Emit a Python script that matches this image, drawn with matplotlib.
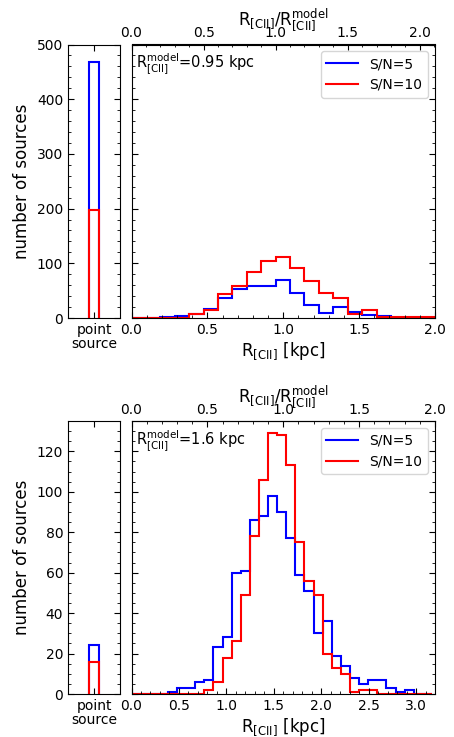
import numpy as np
import matplotlib
matplotlib.use("Agg")
import matplotlib.pyplot as plt
from matplotlib.ticker import AutoMinorLocator, MultipleLocator

plt.rcParams['mathtext.default'] = 'regular'
plt.rcParams['font.family'] = ['DejaVu Sans']

# ---------------- data ----------------
r_model = [0.95, 1.6]            # kpc
bin_width = [0.095, 0.096]       # kpc

point_sn5 = [468, 24]
point_sn10 = [197, 16]

top_sn5 = [0, 0, 1, 3, 8, 17, 36, 53, 59, 58, 70, 45, 23, 10, 20, 11, 5, 3, 0, 0, 0, 0]
top_sn10 = [0, 0, 0, 0, 7, 15, 44, 58, 84, 105, 112, 91, 68, 46, 36, 8, 14, 2, 1, 1, 1, 0]

bot_sn5 = [0, 0, 0, 0, 1, 3, 3, 6, 7, 23, 28, 60, 61, 86, 88, 98, 90, 77, 59, 51, 30, 36,
           19, 14, 8, 5, 7, 7, 3, 1, 2, 0, 0]
bot_sn10 = [0, 0, 0, 0, 0, 0, 0, 0, 2, 6, 18, 26, 49, 78, 106, 129, 128, 113, 75, 56, 49, 20,
            13, 10, 1, 2, 2, 0, 0, 0, 0, 0, 0]

series_sn5 = [top_sn5, bot_sn5]
series_sn10 = [top_sn10, bot_sn10]
xmax = [2.0, 3.2]
ymax = [500, 135]
ymajor = [100, 20]
xlabels_model = ['0.95', '1.6']
legend_labels = ['S/N=5', 'S/N=10']
colors = ['blue', 'red']

# ---------------- figure ----------------
W, H = 454, 737
fig = plt.figure(figsize=(W / 100, H / 100), dpi=100)

def frac(x0, y0, x1, y1):
    return [x0 / W, 1 - y1 / H, (x1 - x0) / W, (y1 - y0) / H]

rows = [(44.5, 318), (421, 694)]

for i in range(2):
    y0, y1 = rows[i]
    axl = fig.add_axes(frac(68, y0, 120, y1))
    axm = fig.add_axes(frac(131.5, y0, 435, y1))

    # point-source panel
    hw = 0.087
    for vals, c in zip([point_sn5[i], point_sn10[i]], colors):
        axl.stairs([vals], [-hw, hw], color=c, lw=1.5, baseline=0)
    axl.set_xlim(-0.5, 0.5)
    axl.set_ylim(0, ymax[i])
    axl.set_xticks([0])
    axl.set_xticklabels(['point\nsource'], fontsize=10, linespacing=1.0)
    axl.yaxis.set_major_locator(MultipleLocator(ymajor[i]))
    axl.yaxis.set_minor_locator(AutoMinorLocator())
    axl.tick_params(axis='both', which='both', direction='in', top=True, right=True,
                    labelsize=10)
    axl.tick_params(axis='x', which='minor', bottom=False, top=False)
    axl.tick_params(which='major', length=4.5)
    axl.tick_params(which='minor', length=2.5)
    axl.set_ylabel('number of sources', fontsize=12)

    # main histogram panel
    n = len(series_sn5[i])
    edges = np.arange(n + 1) * bin_width[i]
    axm.stairs(series_sn5[i], edges, color=colors[0], lw=1.5, label=legend_labels[0])
    axm.stairs(series_sn10[i], edges, color=colors[1], lw=1.5, label=legend_labels[1])
    axm.set_xlim(0, xmax[i])
    axm.set_ylim(0, ymax[i])
    axm.xaxis.set_major_locator(MultipleLocator(0.5))
    axm.xaxis.set_minor_locator(AutoMinorLocator())
    axm.yaxis.set_major_locator(MultipleLocator(ymajor[i]))
    axm.yaxis.set_minor_locator(AutoMinorLocator())
    axm.tick_params(axis='both', which='both', direction='in', top=False, right=True,
                    left=True, labelleft=False, labelsize=10)
    axm.tick_params(which='major', length=4.5)
    axm.tick_params(which='minor', length=2.5)
    axm.set_xlabel(r'R$_{\rm [CII]}$ [kpc]', fontsize=12, labelpad=2)

    rm = r_model[i]
    sec = axm.secondary_xaxis('top', functions=(lambda x, rm=rm: x / rm,
                                                 lambda x, rm=rm: x * rm))
    sec.xaxis.set_major_locator(MultipleLocator(0.5))
    sec.xaxis.set_minor_locator(AutoMinorLocator())
    sec.tick_params(axis='x', which='both', direction='in', labelsize=10, pad=3)
    sec.tick_params(which='major', length=4.5)
    sec.tick_params(which='minor', length=2.5)
    sec.set_xlabel(r'R$_{\rm [CII]}$/R$_{\rm [CII]}^{\rm model}$', fontsize=12, labelpad=1)

    axm.text(0.015, 0.975, r'R$_{\rm [CII]}^{\rm model}$=' + xlabels_model[i] + ' kpc',
             transform=axm.transAxes, ha='left', va='top', fontsize=10.5)
    axm.legend(loc='upper right', fontsize=10, borderaxespad=0.5, handlelength=2.3)

fig.savefig('out.png', dpi=100)
